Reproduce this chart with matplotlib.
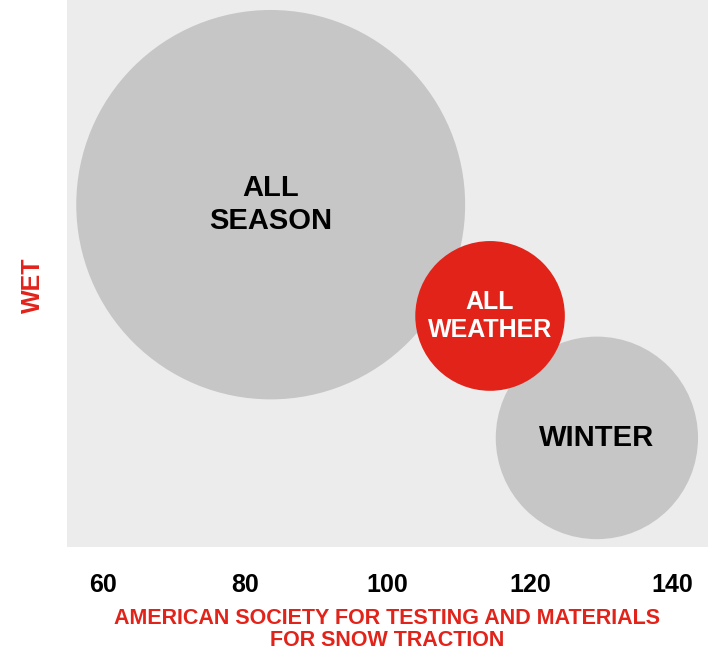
import matplotlib
matplotlib.use("Agg")
import matplotlib.pyplot as plt
from matplotlib.patches import Circle

# tyre categories: snow traction (x), wet grip (y), bubble radius
labels = ["ALL\nSEASON", "ALL\nWEATHER", "WINTER"]
snow = [83.6, 114.4, 129.4]
wet = [48.0, 32.4, 15.3]
radius = [27.3, 10.5, 14.2]
fills = ["#c6c6c6", "#e2231a", "#c6c6c6"]
text_colors = ["#000000", "#ffffff", "#000000"]
label_sizes = [21, 18, 21]
layer = [1, 3, 2]  # red bubble sits on top of the grey ones

xticks = [60, 80, 100, 120, 140]

red = "#e2231a"
plt.rcParams['font.family'] = ['Liberation Sans', 'DejaVu Sans']

fig = plt.figure(figsize=(7.08, 6.51), dpi=100)
ax = fig.add_axes([67 / 708, 104 / 651, 641 / 708, 547 / 651])
ax.set_facecolor("#ececec")
ax.set_xlim(55, 145)
ax.set_ylim(0, 76.7)

for x, y, r, c, lab, tc, fs, z in zip(snow, wet, radius, fills, labels,
                                      text_colors, label_sizes, layer):
    ax.add_patch(Circle((x, y), r, facecolor=c, edgecolor="none", zorder=z))
    ax.text(x, y, lab, ha="center", va="center", color=tc, fontsize=fs,
            fontweight="bold", linespacing=1.25, zorder=z + 0.5)

ax.set_xticks(xticks)
ax.set_xticklabels([str(t) for t in xticks], fontsize=18, fontweight="bold")
ax.set_yticks([])
ax.tick_params(axis="x", length=0, pad=19)
for s in ax.spines.values():
    s.set_visible(False)

ax.set_xlabel("AMERICAN SOCIETY FOR TESTING AND MATERIALS\nFOR SNOW TRACTION",
              color=red, fontsize=15.5, fontweight="bold", linespacing=1.05)
ax.xaxis.set_label_coords(0.5, -0.112)
ax.text(-0.053, 0.479, "WET", transform=ax.transAxes, rotation=90,
        ha="center", va="center", color=red, fontsize=18, fontweight="bold")

fig.savefig("out.png", dpi=100)
